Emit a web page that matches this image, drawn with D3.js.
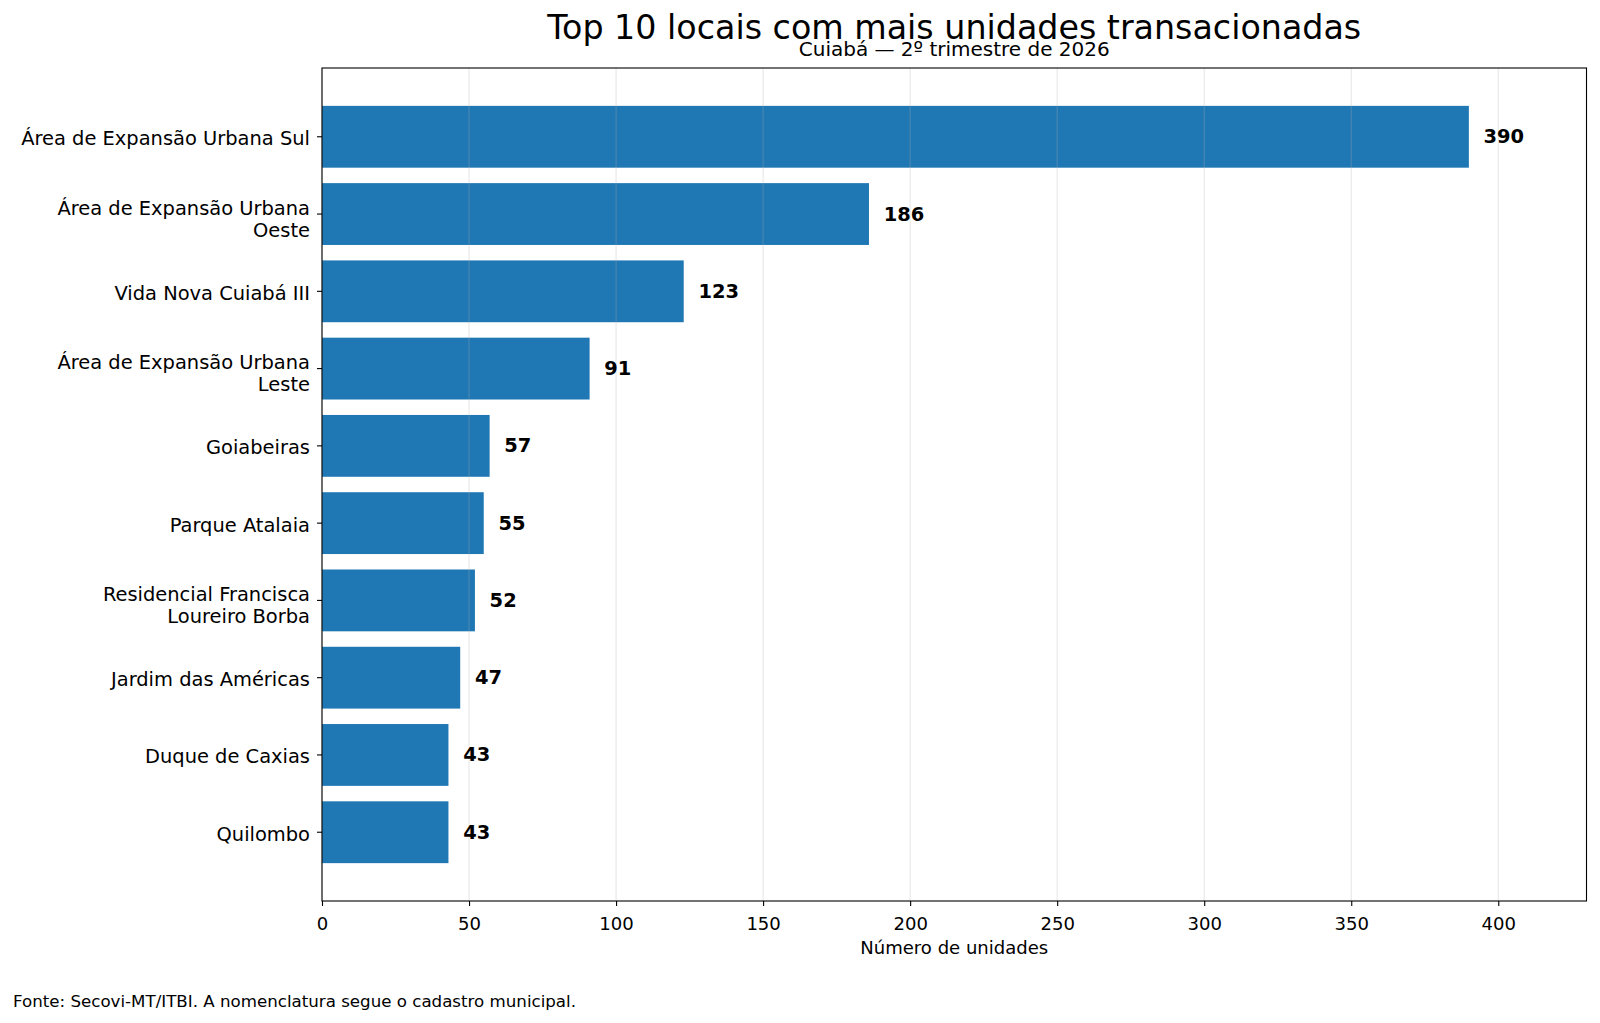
<!DOCTYPE html>
<html>
<head>
<meta charset="utf-8">
<script src="https://cdn.jsdelivr.net/npm/d3@7"></script>
<style>
  body { margin: 0; background: #fff; }
  svg text { font-family: "DejaVu Sans", sans-serif; fill: #000; }
</style>
</head>
<body>
<div id="chart"></div>
<script>
// =============================================================
// DATA

let locais = [ 'Área de Expansão Urbana Sul',
               'Área de Expansão Urbana\nOeste',
               'Vida Nova Cuiabá III',
               'Área de Expansão Urbana\nLeste',
               'Goiabeiras',
               'Parque Atalaia',
               'Residencial Francisca\nLoureiro Borba',
               'Jardim das Américas',
               'Duque de Caxias',
               'Quilombo' ];
let unidades = [ 390, 186, 123, 91, 57, 55, 52, 47, 43, 43 ];
let x_ticks = [ 0, 50, 100, 150, 200, 250, 300, 350, 400 ];

let titulo = 'Top 10 locais com mais unidades transacionadas';
let subtitulo = 'Cuiabá — 2º trimestre de 2026';
let x_label = 'Número de unidades';
let fonte = 'Fonte: Secovi-MT/ITBI. A nomenclatura segue o cadastro municipal.';

// =============================================================
// LAYOUT

let svg_width = 1600, svg_height = 1023;
let plot_left = 322, plot_right = 1586.5, plot_top = 68, plot_bottom = 901;
let bar_colour = '#1f77b4';

let svg = d3.select('#chart')
            .append('svg')
            .attr('width', svg_width)
            .attr('height', svg_height);

svg.append('rect')
   .attr('width', svg_width)
   .attr('height', svg_height)
   .attr('fill', '#fff');

// scales
let x_scale = d3.scaleLinear()
                .domain([ 0, 430 ])
                .range([ plot_left, plot_right ]);

let y_scale = d3.scaleBand()
                .domain(d3.range(locais.length))
                .range([ plot_top, plot_bottom ])
                .paddingInner(0.2)
                .paddingOuter(0.49);

// bars
svg.append('g')
   .selectAll('rect')
   .data(unidades)
   .enter()
   .append('rect')
   .attr('x', x_scale(0))
   .attr('y', (d, i) => y_scale(i))
   .attr('width', d => x_scale(d) - x_scale(0))
   .attr('height', y_scale.bandwidth())
   .attr('fill', bar_colour);

// grid (drawn over the bars, faint)
svg.append('g')
   .selectAll('line')
   .data(x_ticks)
   .enter()
   .append('line')
   .attr('x1', d => x_scale(d))
   .attr('x2', d => x_scale(d))
   .attr('y1', plot_top)
   .attr('y2', plot_bottom)
   .attr('stroke', '#b0b0b0')
   .attr('stroke-opacity', 0.3)
   .attr('stroke-width', 1.1);

// value labels
svg.append('g')
   .selectAll('text')
   .data(unidades)
   .enter()
   .append('text')
   .attr('x', d => x_scale(d + 5))
   .attr('y', (d, i) => y_scale(i) + y_scale.bandwidth() / 2 + 6.5)
   .attr('font-size', 19.44)
   .attr('font-weight', 'bold')
   .text(d => d);

// x axis
let x_axis = d3.axisBottom(x_scale)
               .tickValues(x_ticks)
               .tickSize(5)
               .tickSizeOuter(0);

let gx = svg.append('g')
            .attr('transform', 'translate(0,' + plot_bottom + ')')
            .call(x_axis);
gx.select('.domain').remove();
gx.selectAll('line').attr('stroke', '#000').attr('stroke-width', 1.1);
gx.selectAll('text')
  .attr('y', 29)
  .attr('dy', null)
  .attr('font-size', 18.05)
  .attr('font-family', '"DejaVu Sans", sans-serif')
  .attr('fill', '#000');

// y axis with multi-line labels
let y_axis = d3.axisLeft(y_scale)
               .tickSize(5)
               .tickSizeOuter(0)
               .tickFormat('');

let gy = svg.append('g')
            .attr('transform', 'translate(' + plot_left + ',0)')
            .call(y_axis);
gy.select('.domain').remove();
gy.selectAll('line').attr('stroke', '#000').attr('stroke-width', 1.1);

gy.selectAll('.tick text').each(function (d) {
    let lines = locais[d].split('\n');
    let t = d3.select(this)
              .attr('x', -12)
              .attr('dy', null)
              .attr('y', null)
              .attr('text-anchor', 'end')
              .attr('font-size', 19.44)
              .attr('font-family', '"DejaVu Sans", sans-serif')
              .attr('fill', '#000')
              .text(null);
    let y0 = lines.length > 1 ? 0.5 : 8.5;   // baseline of first line from tick
    lines.forEach(function (line, k) {
        t.append('tspan')
         .attr('x', -12)
         .attr('y', y0 + k * 22)
         .text(line);
    });
});

// frame
svg.append('rect')
   .attr('x', plot_left)
   .attr('y', plot_top)
   .attr('width', plot_right - plot_left)
   .attr('height', plot_bottom - plot_top)
   .attr('fill', 'none')
   .attr('stroke', '#000')
   .attr('stroke-width', 1.1);

// titles and notes
let cx = (plot_left + plot_right) / 2;

svg.append('text')
   .attr('x', cx)
   .attr('y', 38.7)
   .attr('text-anchor', 'middle')
   .attr('font-size', 33.3)
   .text(titulo);

svg.append('text')
   .attr('x', cx)
   .attr('y', 56)
   .attr('text-anchor', 'middle')
   .attr('font-size', 20)
   .text(subtitulo);

svg.append('text')
   .attr('x', cx)
   .attr('y', 954)
   .attr('text-anchor', 'middle')
   .attr('font-size', 18.05)
   .text(x_label);

svg.append('text')
   .attr('x', 13)
   .attr('y', 1007)
   .attr('font-size', 16.67)
   .text(fonte);
</script>
</body>
</html>
